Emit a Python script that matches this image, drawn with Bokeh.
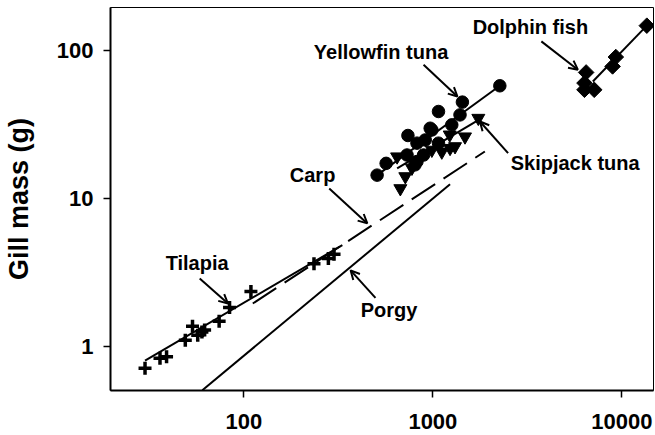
from bokeh.plotting import figure
from bokeh.models import (FixedTicker, Label, Arrow, OpenHead, Range1d)
from bokeh.embed import file_html
from bokeh.resources import INLINE
import math

# ---- data ----
tilapia_x = [30, 36, 39, 49, 53.5, 57, 60, 62, 74, 84, 109, 235, 280, 300]
tilapia_y = [0.71, 0.83, 0.85, 1.10, 1.37, 1.19, 1.25, 1.29, 1.48, 1.83, 2.35, 3.62, 3.93, 4.2]
tilapia_fit_x = [30, 332]
tilapia_fit_y = [0.80, 4.84]

carp_fit_x = [111.5, 1884]
carp_fit_y = [1.95, 20.8]

porgy_fit_x = [60.3, 1233]
porgy_fit_y = [0.505, 12.5]

yellowfin_x = [507, 566, 738, 730, 893, 804, 968, 1071, 2261, 1433, 1392, 1259, 988, 911, 824, 1071, 824]
yellowfin_y = [14.4, 17.3, 26.7, 19.7, 19.7, 16.9, 29.9, 38.8, 57.9, 44.9, 36.8, 31.5, 29.1, 24.9, 23.7, 23.7, 17.8]
yellowfin_fit_x = [507, 2261]
yellowfin_fit_y = [14.4, 57.9]

skipjack_x = [647, 673, 715, 1233, 1479, 1740, 1310, 1228, 988, 1115, 775]
skipjack_y = [19.2, 11.7, 14.1, 21.9, 26.2, 35.0, 22.5, 27.0, 21.3, 20.7, 16.1]
skipjack_fit_x = [647, 1811]
skipjack_fit_y = [16.0, 35.0]

dolphin_x = [13550, 9290, 8930, 6470, 6340, 7140, 6340]
dolphin_y = [147.7, 90.6, 78.3, 71.3, 60.4, 54.4, 54.4]
dolphin_fit_x = [7020, 13550]
dolphin_fit_y = [61.9, 147.7]

x_ticks = [100, 1000, 10000]
x_tick_labels = ["100", "1000", "10000"]
y_ticks = [1, 10, 100]
y_tick_labels = ["1", "10", "100"]

# annotation: text, text x, text y, arrow start x, y, arrow end x, y
annotations = [
    ("Yellowfin tuna", 532, 98.5, 893, 80.4, 1349, 49.0),
    ("Dolphin fish", 3281, 145.5, 3750, 115.7, 5850, 74.4),
    ("Skipjack tuna", 5660, 17.4, 2500, 20.3, 1774, 33.2),
    ("Carp", 231, 14.4, 283, 11.7, 450, 6.79),
    ("Tilapia", 56.6, 3.64, 58.4, 2.88, 82.4, 1.95),
    ("Porgy", 586, 1.75, 497, 2.13, 367, 3.27),
]

FONT = "Liberation Sans"

p = figure(width=655, height=435, x_axis_type="log", y_axis_type="log",
           x_range=Range1d(19.7, 14700), y_range=Range1d(0.503, 196),
           output_backend="svg", toolbar_location=None,
           min_border_left=107, min_border_right=2, min_border_top=7,
           min_border_bottom=45)
p.grid.visible = False
p.outline_line_color = "black"
p.outline_line_width = 1
p.background_fill_color = "white"
p.border_fill_color = "white"

for ax in (p.xaxis[0], p.yaxis[0]):
    ax.axis_line_width = 2
    ax.axis_line_color = "black"
    ax.major_tick_line_width = 1.5
    ax.major_tick_line_color = "black"
    ax.major_tick_out = 7
    ax.major_tick_in = 0
    ax.minor_tick_line_color = None
    ax.major_label_text_font = FONT
    ax.major_label_text_font_style = "bold"
    ax.major_label_text_font_size = "22px"
    ax.major_label_text_color = "black"

p.xaxis.ticker = FixedTicker(ticks=x_ticks)
p.xaxis.major_label_overrides = {t: l for t, l in zip(x_ticks, x_tick_labels)}
p.xaxis.major_label_standoff = 16
p.yaxis.ticker = FixedTicker(ticks=y_ticks)
p.yaxis.major_label_overrides = {t: l for t, l in zip(y_ticks, y_tick_labels)}
p.yaxis.major_label_standoff = 10
p.yaxis.axis_label = "Gill mass (g)"
p.yaxis.axis_label_text_font = FONT
p.yaxis.axis_label_text_font_style = "bold"
p.yaxis.axis_label_text_font_size = "27px"
p.yaxis.axis_label_text_color = "black"
p.yaxis.axis_label_standoff = 20

# lines
p.line(tilapia_fit_x, tilapia_fit_y, line_color="black", line_width=2)
p.line(carp_fit_x, carp_fit_y, line_color="black", line_width=2, line_dash="28 10")
p.line(porgy_fit_x, porgy_fit_y, line_color="black", line_width=2)
p.line(yellowfin_fit_x, yellowfin_fit_y, line_color="black", line_width=2)
p.line(skipjack_fit_x, skipjack_fit_y, line_color="black", line_width=2)
p.line(dolphin_fit_x, dolphin_fit_y, line_color="black", line_width=2)

# markers
p.scatter(tilapia_x, tilapia_y, marker="cross", size=13, line_width=3.5, line_color="black")
p.scatter(yellowfin_x, yellowfin_y, marker="circle", size=12.5, fill_color="black", line_color="black")
p.scatter(skipjack_x, skipjack_y, marker="inverted_triangle", size=13, fill_color="black", line_color="black")
p.scatter(dolphin_x, dolphin_y, marker="square", size=11, angle=math.pi / 4,
          fill_color="black", line_color="black")

for text, tx, ty, sx, sy, ex, ey in annotations:
    p.add_layout(Label(x=tx, y=ty, text=text, text_align="center", text_baseline="middle",
                       text_font=FONT, text_font_style="bold", text_font_size="20px",
                       text_color="black"))
    p.add_layout(Arrow(x_start=sx, y_start=sy, x_end=ex, y_end=ey, line_width=2,
                       line_color="black",
                       end=OpenHead(size=9, line_width=2, line_color="black")))

open("out.html", "w").write(file_html(p, INLINE))
